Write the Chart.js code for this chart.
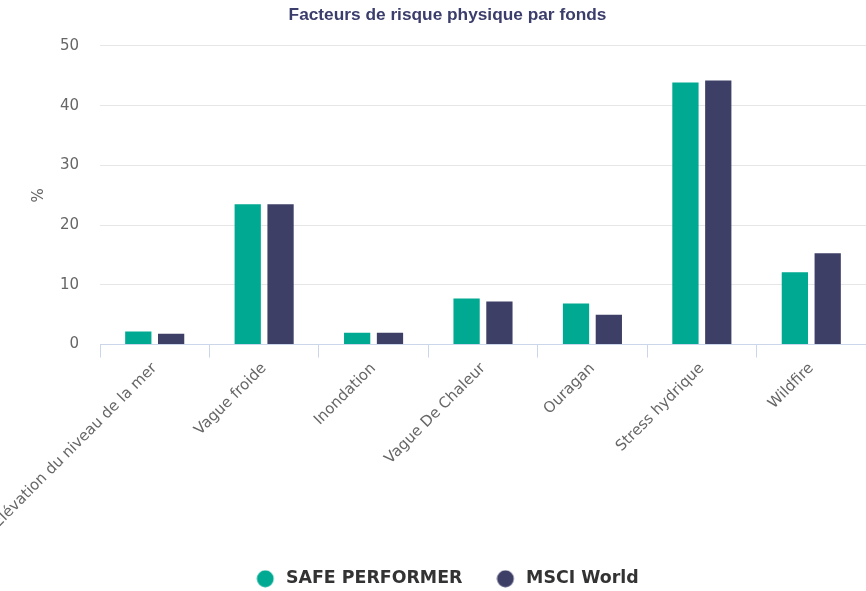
<!DOCTYPE html>
<html>
<head>
<meta charset="utf-8">
<title>Facteurs de risque physique par fonds</title>
<script src="https://cdn.jsdelivr.net/npm/chart.js@4.4.1/dist/chart.umd.min.js"></script>
<style>
  html, body { margin: 0; padding: 0; background: #fff; overflow: hidden; }
  #wrap { position: relative; width: 895px; height: 591px; }
</style>
</head>
<body>
<div id="wrap"><canvas id="bar-chart"></canvas></div>
<script>
// data (in %)
const categories = ["Élévation du niveau de la mer", "Vague froide", "Inondation", "Vague De Chaleur", "Ouragan", "Stress hydrique", "Wildfire"];
const safePerformer = [2.2, 23.5, 2.0, 7.7, 6.9, 43.9, 12.1];
const msciWorld = [1.8, 23.5, 2.0, 7.2, 5.0, 44.2, 15.3];
const yMin = 0;
const yMax = 50;
const yStep = 10;

const GREEN = '#00a991';
const NAVY = '#3d3f66';

// round legend marker with some room on the right of it
function dot(color) {
    const c = document.createElement('canvas');
    c.width = 21;
    c.height = 18;
    const g = c.getContext('2d');
    g.fillStyle = color;
    g.beginPath();
    g.arc(9, 9, 8.4, 0, Math.PI * 2);
    g.fill();
    return c;
}

Chart.defaults.font.family = "'DejaVu Sans', sans-serif";

new Chart(document.getElementById('bar-chart'), {
    type: 'bar',
    data: {
        labels: categories,
        datasets: [
            {
                label: 'SAFE PERFORMER',
                data: safePerformer,
                backgroundColor: GREEN,
                pointStyle: dot(GREEN)
            },
            {
                label: 'MSCI World',
                data: msciWorld,
                backgroundColor: NAVY,
                pointStyle: dot(NAVY)
            }
        ]
    },
    options: {
        responsive: true,
        maintainAspectRatio: false,
        animation: false,
        categoryPercentage: 0.6,
        barPercentage: 0.8,
        layout: { padding: { top: 0, left: 0, right: 0, bottom: -6.5 } },
        plugins: {
            title: {
                display: true,
                text: 'Facteurs de risque physique par fonds',
                color: '#3b3d6b',
                font: { family: "'Liberation Sans', Arial, sans-serif", size: 17.3, weight: 'bold' },
                padding: { top: 5, bottom: 20.2 }
            },
            legend: {
                display: true,
                position: 'bottom',
                labels: {
                    usePointStyle: true,
                    pointStyleWidth: 21,
                    boxHeight: 17,
                    padding: 34,
                    color: '#333333',
                    font: { size: 17.4, weight: 'bold' }
                }
            }
        },
        scales: {
            x: {
                offset: true,
                grid: {
                    offset: true,
                    drawOnChartArea: false,
                    drawTicks: true,
                    tickLength: 13,
                    color: '#ccd6eb'
                },
                border: { display: true, color: '#ccd6eb', width: 1 },
                ticks: {
                    autoSkip: false,
                    minRotation: 45,
                    maxRotation: 45,
                    padding: 2,
                    color: '#666666',
                    font: { size: 15 }
                },
                afterFit: function (scale) {
                    scale.height = 191.5;
                    scale.paddingLeft = 0;
                    scale.paddingRight = 29;
                }
            },
            y: {
                min: yMin,
                max: yMax,
                grid: { color: '#e6e6e6', drawTicks: false },
                border: { display: false },
                ticks: {
                    stepSize: yStep,
                    padding: 21,
                    color: '#666666',
                    font: { size: 15 }
                },
                title: {
                    display: true,
                    text: '%',
                    color: '#666666',
                    font: { size: 15 },
                    padding: { top: 30, bottom: 0 }
                },
                afterFit: function (scale) {
                    scale.width = 100;
                }
            }
        }
    }
});
</script>
</body>
</html>
